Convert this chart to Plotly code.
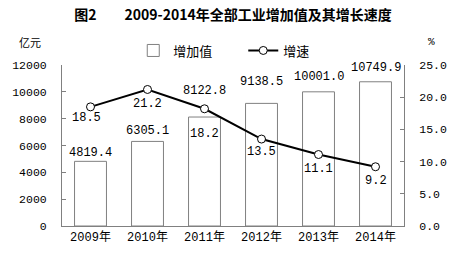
import plotly.graph_objects as go

years = ["2009年", "2010年", "2011年", "2012年", "2013年", "2014年"]
value_added = [4819.4, 6305.1, 8122.8, 9138.5, 10001.0, 10749.9]
growth = [18.5, 21.2, 18.2, 13.5, 11.1, 9.2]
left_ticks = [0, 2000, 4000, 6000, 8000, 10000, 12000]
right_ticks = [0, 5, 10, 15, 20, 25]

# label offsets (pixels) -- style, not data
bar_label_shift = [8, 10, 26, 21, 15, 14]
line_label_shift = [-11, -15, -25, -13, -14, -14]
line_label_xshift = [-4, 0, 0, 0, 0, 0]

num_font = "Liberation Mono, Noto Sans CJK SC"
cjk_font = "Noto Sans CJK SC"
axis_col = "#808080"

fig = go.Figure()
fig.add_trace(go.Bar(
    x=years, y=value_added, name="增加值",
    marker=dict(color="white", line=dict(color=axis_col, width=1)),
    yaxis="y",
))
fig.add_trace(go.Scatter(
    x=years, y=growth, name="增速", mode="lines+markers",
    line=dict(color="black", width=2),
    marker=dict(symbol="circle", size=8, color="white", line=dict(color="black", width=1)),
    cliponaxis=False, yaxis="y2",
))

annotations = []
for yr, v, s in zip(years, value_added, bar_label_shift):
    annotations.append(dict(x=yr, y=v, xref="x", yref="y", text=f"{v:.1f}", showarrow=False,
                            yshift=s, xanchor="center", yanchor="middle",
                            font=dict(family=num_font, size=12, color="black")))
for yr, v, s, xs in zip(years, growth, line_label_shift, line_label_xshift):
    annotations.append(dict(x=yr, y=v, xref="x", yref="y2", text=f"{v:.1f}", showarrow=False,
                            yshift=s, xshift=xs, xanchor="center", yanchor="middle",
                            font=dict(family=num_font, size=12, color="black")))
annotations += [
    dict(text="亿元", xref="paper", yref="paper", x=-0.095, y=1.14, showarrow=False,
         font=dict(family=cjk_font, size=11, color="black"), xanchor="center", yanchor="middle"),
    dict(text="%", xref="paper", yref="paper", x=1.08, y=1.14, showarrow=False,
         font=dict(family=num_font, size=11, color="black"), xanchor="center", yanchor="middle"),
]

fig.update_layout(
    width=459, height=266,
    margin=dict(l=60, r=53, t=65, b=40),
    paper_bgcolor="white", plot_bgcolor="white",
    bargap=0.44,
    showlegend=True,
    legend=dict(orientation="h", x=0.53, xanchor="center", y=1.09, yanchor="middle",
                font=dict(family=cjk_font, size=13, color="black"),
                itemwidth=30, entrywidth=65, entrywidthmode="pixels",
                bgcolor="rgba(0,0,0,0)"),
    title=dict(text="<b>图2\u3000\u30002009-2014年全部工业增加值及其增长速度</b>",
               x=0.5, xanchor="center", xref="paper", y=0.945, yanchor="middle",
               font=dict(family=cjk_font, size=14, color="black")),
    xaxis=dict(showline=True, linecolor=axis_col, linewidth=1, ticks="",
               tickfont=dict(family=num_font, size=12, color="black"),
               showgrid=False, fixedrange=True),
    yaxis=dict(range=[0, 12000], tickvals=left_ticks, ticktext=[str(t) for t in left_ticks],
               showline=True, linecolor=axis_col,
               linewidth=1, ticks="inside", ticklen=4, tickcolor=axis_col,
               tickfont=dict(family=num_font, size=11.5, color="black"),
               ticklabelstandoff=12, showgrid=False, zeroline=False),
    yaxis2=dict(range=[0, 25], tickvals=right_ticks, tickformat=".1f", overlaying="y",
                side="right", showline=True, linecolor=axis_col, linewidth=1,
                ticks="inside", ticklen=4, tickcolor=axis_col,
                tickfont=dict(family=num_font, size=11.5, color="black"),
                ticklabelstandoff=12, showgrid=False, zeroline=False),
    annotations=annotations,
)

fig.write_html("out.html")
